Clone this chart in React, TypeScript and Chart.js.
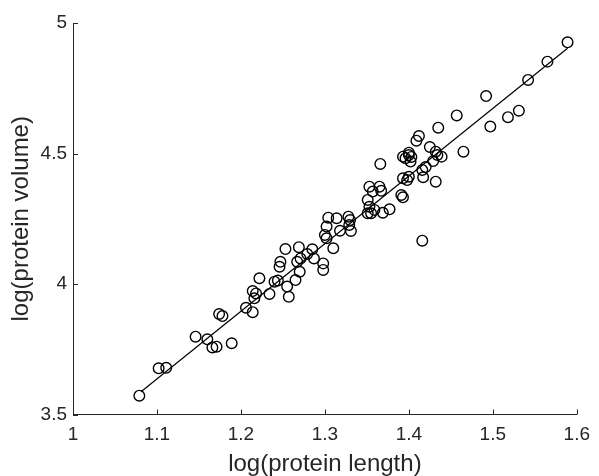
import React, { useEffect, useRef } from "react";
import { Chart, registerables } from "chart.js";

Chart.register(...registerables);

const lengthLog: number[] = [
  1.079, 1.102, 1.111, 1.146, 1.160, 1.166, 1.171, 1.174, 1.178, 1.189,
  1.206, 1.214, 1.214, 1.216, 1.222, 1.218, 1.234, 1.240, 1.244, 1.246,
  1.247, 1.253, 1.255, 1.257, 1.265, 1.267, 1.269, 1.271, 1.270, 1.279,
  1.285, 1.287, 1.298, 1.298, 1.300, 1.302, 1.310, 1.302, 1.304, 1.314,
  1.318, 1.328, 1.330, 1.329, 1.331, 1.351, 1.353, 1.355, 1.359, 1.369,
  1.377, 1.353, 1.365, 1.367, 1.357, 1.366, 1.391, 1.393, 1.393, 1.398,
  1.400, 1.393, 1.400, 1.402, 1.400, 1.403, 1.416, 1.420, 1.417, 1.432,
  1.416, 1.412, 1.409, 1.425, 1.432, 1.439, 1.429, 1.435, 1.465, 1.457,
  1.492, 1.497, 1.518, 1.531, 1.542, 1.565, 1.589, 1.351, 1.434, 1.396,
];

const volumeLog: number[] = [
  3.572, 3.677, 3.679, 3.798, 3.788, 3.757, 3.760, 3.885, 3.877, 3.773,
  3.909, 3.892, 3.973, 3.945, 4.022, 3.964, 3.962, 4.009, 4.013, 4.066,
  4.085, 4.134, 3.990, 3.951, 4.015, 4.085, 4.141, 4.098, 4.047, 4.115,
  4.133, 4.098, 4.079, 4.054, 4.188, 4.175, 4.137, 4.220, 4.254, 4.252,
  4.204, 4.258, 4.245, 4.226, 4.203, 4.322, 4.296, 4.271, 4.284, 4.273,
  4.286, 4.373, 4.373, 4.357, 4.354, 4.460, 4.341, 4.332, 4.405, 4.398,
  4.411, 4.488, 4.494, 4.469, 4.503, 4.487, 4.437, 4.448, 4.409, 4.392,
  4.166, 4.567, 4.549, 4.525, 4.507, 4.488, 4.471, 4.599, 4.507, 4.646,
  4.720, 4.603, 4.639, 4.664, 4.782, 4.852, 4.926, 4.271, 4.494, 4.482,
];

const fitX: number[] = [1.081, 1.589];
const fitY: number[] = [3.587, 4.903];

const xTicks: number[] = [1, 1.1, 1.2, 1.3, 1.4, 1.5, 1.6];
const yTicks: number[] = [3.5, 4, 4.5, 5];

const AXIS_COLOR = "#262626";
const FONT = "'Liberation Sans', Arial, Helvetica, sans-serif";

const inwardTicks = {
  id: "inwardTicks",
  afterDraw(chart: any) {
    const { ctx, chartArea, scales } = chart;
    const len = 5;
    ctx.save();
    ctx.strokeStyle = AXIS_COLOR;
    ctx.lineWidth = 1;
    ctx.beginPath();
    xTicks.forEach((v) => {
      const px = Math.round(scales.x.getPixelForValue(v)) + 0.5;
      ctx.moveTo(px, chartArea.bottom);
      ctx.lineTo(px, chartArea.bottom - len);
    });
    yTicks.forEach((v) => {
      const py = Math.round(scales.y.getPixelForValue(v)) + 0.5;
      ctx.moveTo(chartArea.left, py);
      ctx.lineTo(chartArea.left + len, py);
    });
    ctx.stroke();
    ctx.restore();
  },
};

export default function App() {
  const ref = useRef<HTMLCanvasElement | null>(null);

  useEffect(() => {
    if (!ref.current) return;
    const points = lengthLog.map((x, i) => ({ x, y: volumeLog[i] }));
    const fit = fitX.map((x, i) => ({ x, y: fitY[i] }));
    const chart = new Chart(ref.current, {
      type: "scatter",
      data: {
        datasets: [
          {
            data: fit,
            showLine: true,
            borderColor: "#000000",
            borderWidth: 1.2,
            pointRadius: 0,
            fill: false,
          } as any,
          {
            data: points,
            pointStyle: "circle",
            pointRadius: 5.3,
            pointBorderWidth: 1.4,
            borderColor: "#000000",
            pointBorderColor: "#000000",
            backgroundColor: "rgba(0,0,0,0)",
            pointBackgroundColor: "rgba(0,0,0,0)",
          } as any,
        ],
      },
      options: {
        responsive: false,
        animation: false,
        layout: { padding: { left: 0, right: 16, top: 23, bottom: 0 } },
        plugins: {
          legend: { display: false },
          tooltip: { enabled: false },
        },
        scales: {
          x: {
            type: "linear",
            min: 1,
            max: 1.6,
            afterBuildTicks: (s: any) => {
              s.ticks = xTicks.map((v) => ({ value: v }));
            },
            afterFit: (s: any) => {
              s.height = 61.5;
            },
            grid: {
              display: true,
              drawOnChartArea: false,
              drawTicks: false,
              color: "rgba(0,0,0,0)",
            },
            border: { display: true, color: AXIS_COLOR, width: 1 },
            ticks: {
              color: AXIS_COLOR,
              padding: 9,
              font: { family: FONT, size: 19 },
              callback: (v: any) => String(v),
              maxRotation: 0,
              autoSkip: false,
            },
            title: {
              display: true,
              text: "log(protein length)",
              color: AXIS_COLOR,
              font: { family: FONT, size: 24 },
              padding: { top: 0, bottom: -3 },
            },
          },
          y: {
            type: "linear",
            min: 3.5,
            max: 5,
            afterBuildTicks: (s: any) => {
              s.ticks = yTicks.map((v) => ({ value: v }));
            },
            afterFit: (s: any) => {
              s.width = 73;
            },
            grid: {
              display: true,
              drawOnChartArea: false,
              drawTicks: false,
              color: "rgba(0,0,0,0)",
            },
            border: { display: true, color: AXIS_COLOR, width: 1 },
            ticks: {
              color: AXIS_COLOR,
              padding: 6,
              font: { family: FONT, size: 19 },
              callback: (v: any) => String(v),
              autoSkip: false,
            },
            title: {
              display: true,
              text: "log(protein volume)",
              color: AXIS_COLOR,
              font: { family: FONT, size: 24 },
              padding: { top: 7, bottom: 0 },
            },
          },
        },
      },
      plugins: [inwardTicks],
    });
    return () => chart.destroy();
  }, []);

  return (
    <div style={{ position: "absolute", left: 0, top: 0, width: 599, height: 476, background: "#ffffff" }}>
      <canvas ref={ref} width={599} height={476} style={{ display: "block" }} />
    </div>
  );
}
